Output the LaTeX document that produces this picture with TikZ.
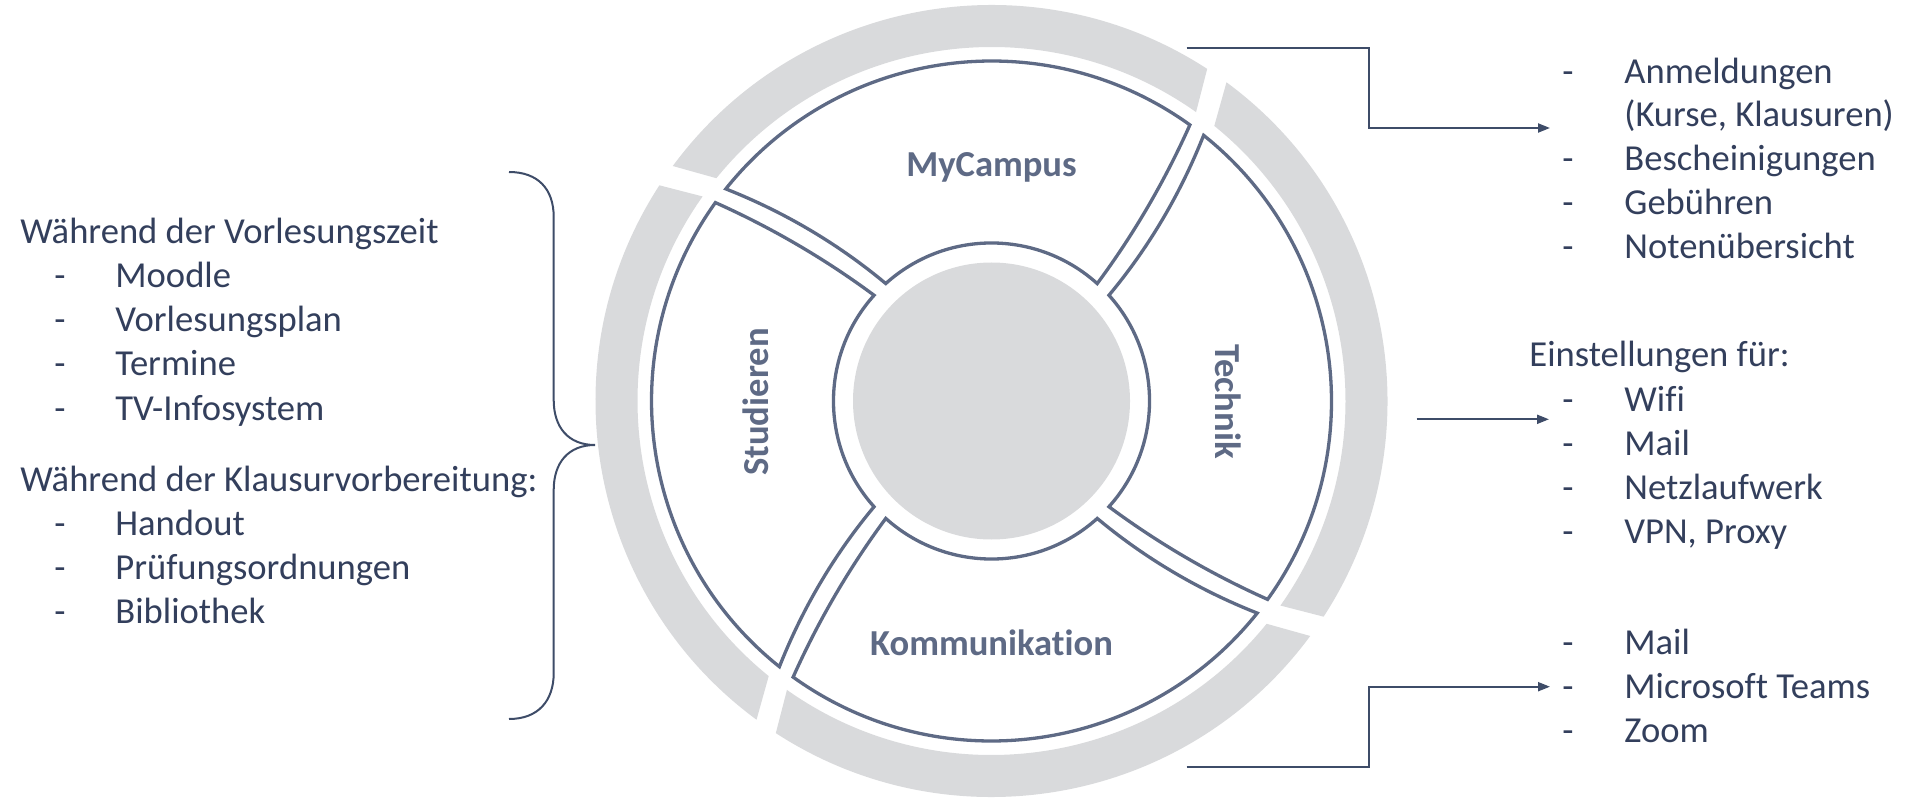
\documentclass[tikz,border=0pt]{standalone}
\usepackage{fontspec}
\setmainfont{Carlito}[Ligatures=NoCommon]
\usetikzlibrary{arrows.meta}
\definecolor{ringgray}{HTML}{D9DADC}
\definecolor{segline}{HTML}{5E6A85}
\definecolor{navy}{HTML}{333F5C}
\definecolor{arrowc}{HTML}{3E4C68}
\begin{document}
\begin{tikzpicture}[x=0.5pt,y=0.5pt,
  seg/.style={draw=segline, fill=white, line width=1.65pt},
  ringpart/.style={fill=ringgray},
  lbl/.style={text=segline, font=\fontsize{18.3pt}{22pt}\selectfont\bfseries, inner sep=0pt, anchor=base},
  txt/.style={text=navy, font=\fontsize{18.3pt}{22pt}\selectfont, inner sep=0pt, anchor=base west},
  dsh/.style={text=navy, font=\fontsize{18.3pt}{22pt}\selectfont, inner sep=0pt, anchor=base},
  conn/.style={draw=arrowc, line width=1pt, -{Triangle[length=6pt,width=4.5pt]}},
  bracel/.style={draw=arrowc, line width=1pt}]
\useasboundingbox (0,0) rectangle (1905,799);
% wheel
\begin{scope}[shift={(991.5,398)}]
 \foreach \ang in {0,90,180,270}{
  \begin{scope}[rotate=\ang]
   \fill[ringpart] (57:396) arc[start angle=57,end angle=143.6,radius=396] -- (141:354) arc[start angle=141,end angle=54.7,radius=354] -- cycle;
  \end{scope}}
 \fill[ringpart] (0,0) circle[radius=138.5];
 \foreach \ang in {0,90,180,270}{
  \begin{scope}[rotate=\ang]
   \draw[seg] (54.3:340) arc[start angle=54.3,end angle=141.4,radius=340]
     -- plot[domain=0:1,samples=25,variable=\t] ({141.4-9.4*\t}:{340-182*\t})
     arc[start angle=132,end angle=48,radius=158]
     -- plot[domain=0:1,samples=25,variable=\t] ({48+6.3*\t}:{158+182*\t}) -- cycle;
  \end{scope}}
\end{scope}
% labels
\node[lbl] (mycampus) at (991.5,622.3) {MyCampus};
\node[lbl] (komm) at (991.5,143.3) {Kommunikation};
\node[lbl, rotate=90] (stud) at (768.3,397) {Studieren};
\node[lbl, rotate=-90] (tech) at (1215,397.5) {Technik};
% left text
\node[txt] (lh1) at (20,555) {Während der Vorlesungszeit};
\foreach \y/\t [count=\i] in {511/Moodle,467/Vorlesungsplan,423/Termine,379/TV-Infosystem}{
  \node[dsh] (ld\i) at (60,\y) {-};
  \node[txt] (li\i) at (115,\y) {\t};}
\node[txt] (lh2) at (20,308) {Während der Klausurvorbereitung:};
\foreach \y/\t [count=\i] in {264/Handout,220/Prüfungsordnungen,176/Bibliothek}{
  \node[dsh] (lde\i) at (60,\y) {-};
  \node[txt] (lie\i) at (115,\y) {\t};}
% brace
\draw[bracel] (509,627) .. controls (538,627) and (553.7,610) .. (553.7,582) -- (553.7,399)
  .. controls (553.7,372) and (568,354) .. (595,354)
  .. controls (568,354) and (553.7,336) .. (553.7,309) -- (553.7,126)
  .. controls (553.7,98) and (538,80) .. (509,80);
% right text block 1
\node[dsh] (rd1) at (1568,715.7) {-};
\node[txt] (ri1) at (1624,715.7) {Anmeldungen};
\node[txt] (ri1b) at (1624,672) {(Kurse, Klausuren)};
\foreach \y/\t [count=\i] in {628/Bescheinigungen,584/Gebühren,540/Notenübersicht}{
  \node[dsh] (rda\i) at (1568,\y) {-};
  \node[txt] (ria\i) at (1624,\y) {\t};}
% right text block 2
\node[txt] (rh2) at (1529,432) {Einstellungen für:};
\foreach \y/\t [count=\i] in {388/Wifi,344/Mail,300/Netzlaufwerk,256/{VPN, Proxy}}{
  \node[dsh] (rdb\i) at (1568,\y) {-};
  \node[txt] (rib\i) at (1624,\y) {\t};}
% right text block 3
\foreach \y/\t [count=\i] in {145/Mail,101/Microsoft Teams,57/Zoom}{
  \node[dsh] (rdc\i) at (1568,\y) {-};
  \node[txt] (ric\i) at (1624,\y) {\t};}
% connectors
\coordinate (a1s) at (1186.7,750.7);
\coordinate (a1e) at (1550,671);
\coordinate (a2s) at (1416.7,379.7);
\coordinate (a2e) at (1549,379.7);
\coordinate (a3s) at (1186.7,32.3);
\coordinate (a3e) at (1550,112.3);
\draw[conn] (a1s) -- ++(182.3,0) |- (a1e);
\draw[conn] (a2s) -- (a2e);
\draw[conn] (a3s) -- ++(182.3,0) |- (a3e);
\end{tikzpicture}
\end{document}
